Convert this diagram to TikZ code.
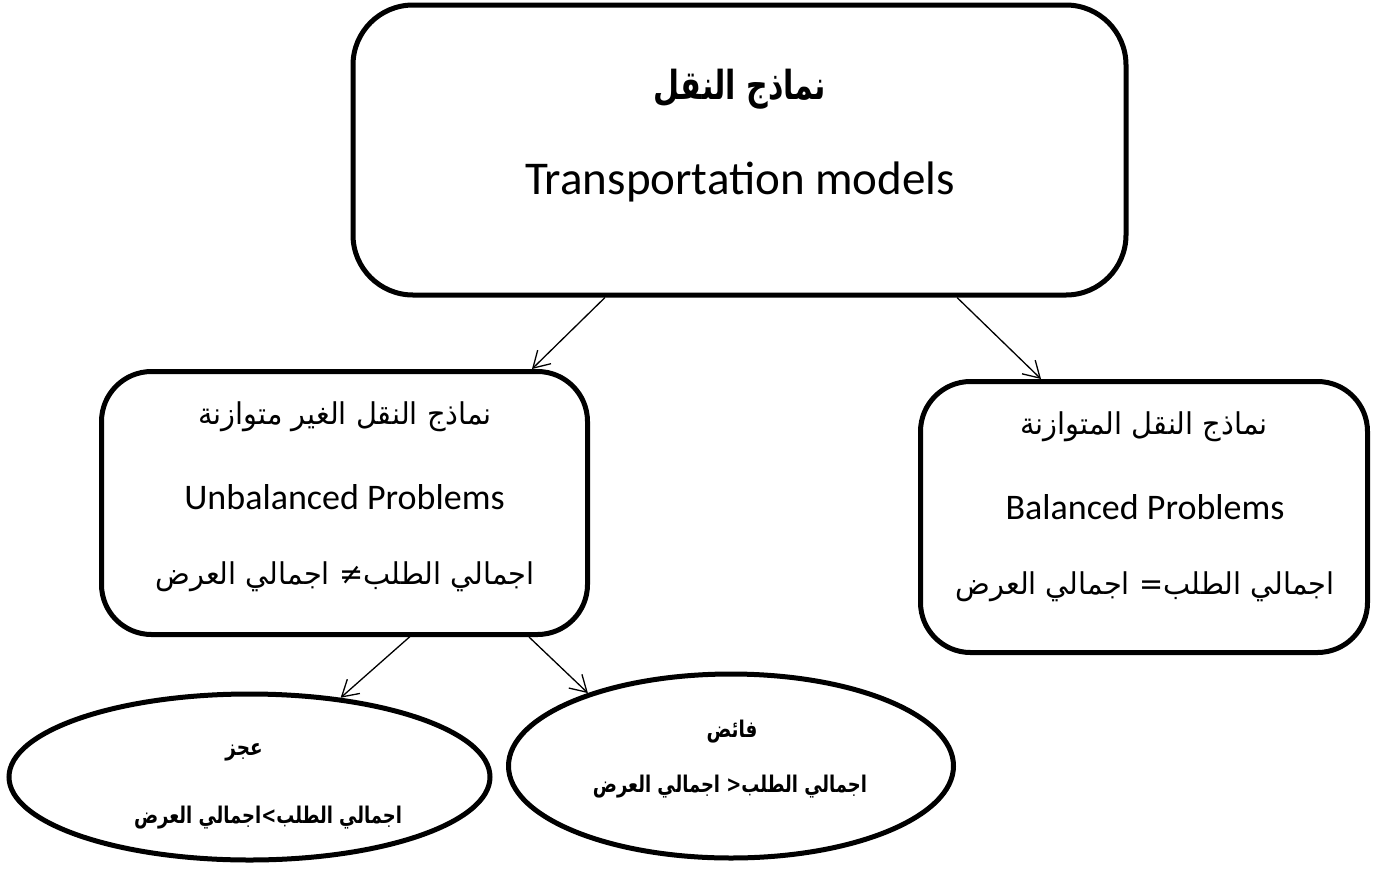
\documentclass[tikz,border=0pt]{standalone}
\usepackage{fontspec}
\usepackage{graphicx}
\setmainfont{Carlito}
\newfontfamily\arabicfont[Script=Arabic]{DejaVu Sans}
\TeXXeTstate=1
\newcommand\squeeze[2]{\scalebox{#1}[1]{#2}}
\usetikzlibrary{shapes.geometric,arrows.meta}
\begin{document}
\begin{tikzpicture}[x=1pt,y=-1pt,
  box/.style={draw,line width=5pt,rounded corners=#1,inner sep=0pt},
  oval/.style={draw,ellipse,line width=5pt,inner sep=0pt},
  arr/.style={line width=1.3pt,-{Straight Barb[length=16pt,width=19pt,line width=1.3pt]}},
  lat/.style={font=\fontsize{36}{40}\selectfont},
  arb/.style={font=\arabicfont\fontsize{30}{34}\selectfont},
  arbb/.style={font=\arabicfont\bfseries\fontsize{23}{27}\selectfont}]
\useasboundingbox (0,0) rectangle (1390,868);
% boxes
\node[box=60pt,minimum width=773pt,minimum height=290pt] (top) at (739.5,150) {};
\node[box=50pt,minimum width=486pt,minimum height=263pt] (left) at (344.5,503) {};
\node[box=50pt,minimum width=447pt,minimum height=271pt] (right) at (1144,517) {};
\node[oval,minimum width=481pt,minimum height=166pt] (lell) at (249.5,777) {};
\node[oval,minimum width=445pt,minimum height=184pt] (rell) at (731,766) {};
% texts
\node[font=\arabicfont\bfseries\fontsize{40}{44}\selectfont] (t1) at (740,89) {\squeeze{0.75}{\beginR نماذج النقل\endR}};
\node[font=\fontsize{47}{52}\selectfont] (t2) at (740,182) {Transportation models};
\node[arb] (l1) at (345,417) {\squeeze{0.96}{\beginR نماذج النقل الغير متوازنة\endR}};
\node[lat] (l2) at (344.5,497) {Unbalanced Problems};
\node[arb] (l3) at (345,577) {\squeeze{0.96}{\beginR اجمالي الطلب\hbox{≠} اجمالي العرض\endR}};
\node[arb] (r1) at (1144,427) {\squeeze{0.96}{\beginR نماذج النقل المتوازنة\endR}};
\node[lat] (r2) at (1145,507) {Balanced Problems};
\node[arb] (r3) at (1145,587) {\squeeze{0.96}{\beginR اجمالي الطلب\hbox{=} اجمالي العرض\endR}};
\node[arbb] (e1) at (244,752) {\squeeze{0.8}{\beginR عجز\endR}};
\node[arbb] (e2) at (268,818) {\squeeze{0.78}{\beginR اجمالي الطلب\hbox{>}اجمالي العرض\endR}};
\node[arbb] (f1) at (732,732) {\squeeze{0.8}{\beginR فائض\endR}};
\node[arbb] (f2) at (730,787) {\squeeze{0.78}{\beginR اجمالي الطلب\hbox{<} اجمالي العرض\endR}};
% connectors
\draw[arr] ([xshift=-134.5pt]top.south) -- ([xshift=187.5pt]left.north);
\draw[arr] ([xshift=217.5pt]top.south) -- ([xshift=-103pt]right.north);
\draw[arr] ([xshift=69.5pt,yshift=4pt]left.south) -- (lell.41);
\draw[arr] ([xshift=184.5pt]left.south) -- (rell.153.7);
\end{tikzpicture}
\end{document}
